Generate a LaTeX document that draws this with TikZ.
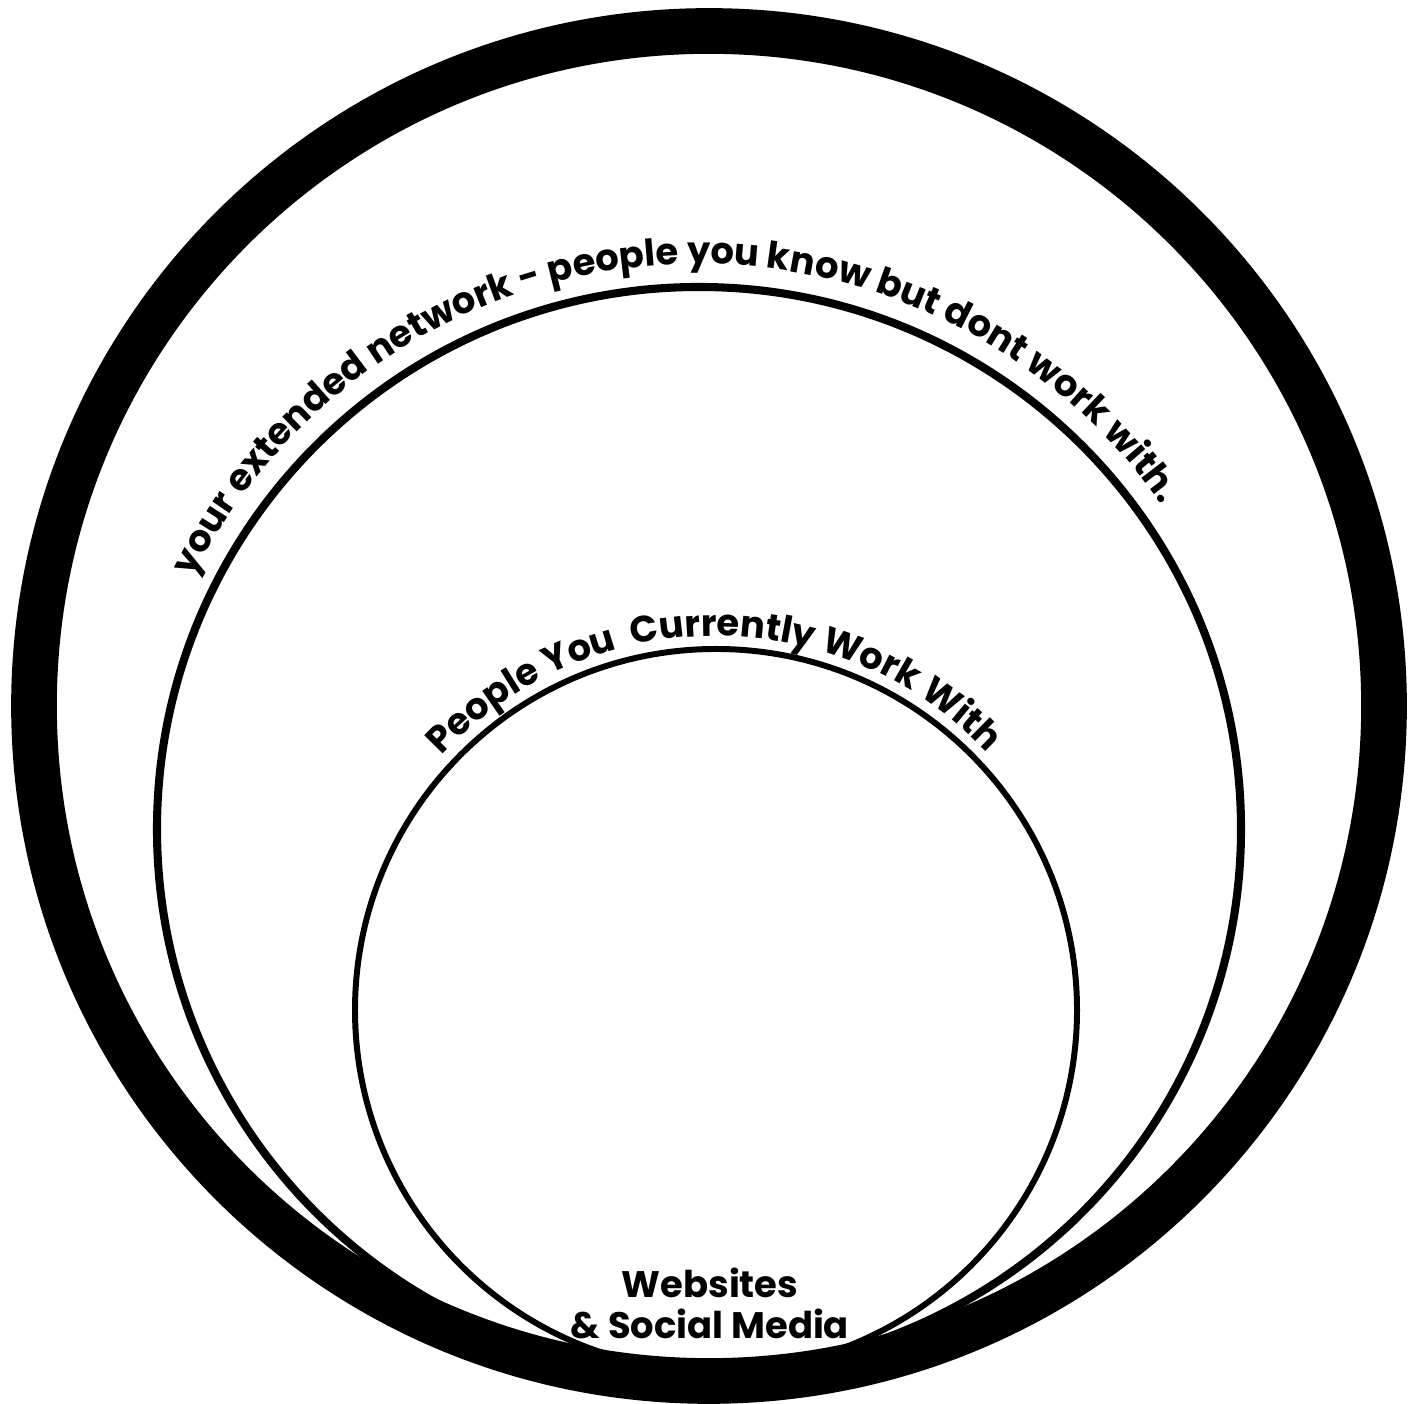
\documentclass[tikz,border=0pt]{standalone}
\usepackage{fontspec}
\setmainfont{Poppins}
\usetikzlibrary{decorations.text}
\newcommand{\labelfont}{\bfseries\fontsize{10.5}{11.7}\selectfont}

\begin{document}
\begin{tikzpicture}[
  ring/.style={draw=black,line width=#1},
  arclabel/.style={decorate,decoration={text along path,text align=center,text={|\labelfont|#1}}}
]
  \useasboundingbox (0,0) rectangle (14.18,14.04);
  % Centres of the three circles
  \coordinate (outerc) at (7.09,6.98);
  \coordinate (midc) at (6.99,5.75);
  \coordinate (innerc) at (7.16,3.94);
  % Circles
  \draw[ring=13pt] (outerc) circle (6.75);
  \draw[ring=2.3pt] (midc) circle (5.42);
  \draw[ring=1.7pt] (innerc) circle (3.61);
  % Labels along the top of the circles
  \path[arclabel={your extended network - people you know but dont work with.}]
    ([shift={(174.3:5.65)}]midc) arc (174.3:14.3:5.65);
  \path[arclabel={People You {\ }Currently Work With}]
    ([shift={(170.35:3.74)}]innerc) arc (170.35:10.35:3.74);
  % Label at the bottom
  \node[font=\labelfont,align=center] (web) at (7.10,1.01) {Websites\\\& Social Media};
\end{tikzpicture}
\end{document}
